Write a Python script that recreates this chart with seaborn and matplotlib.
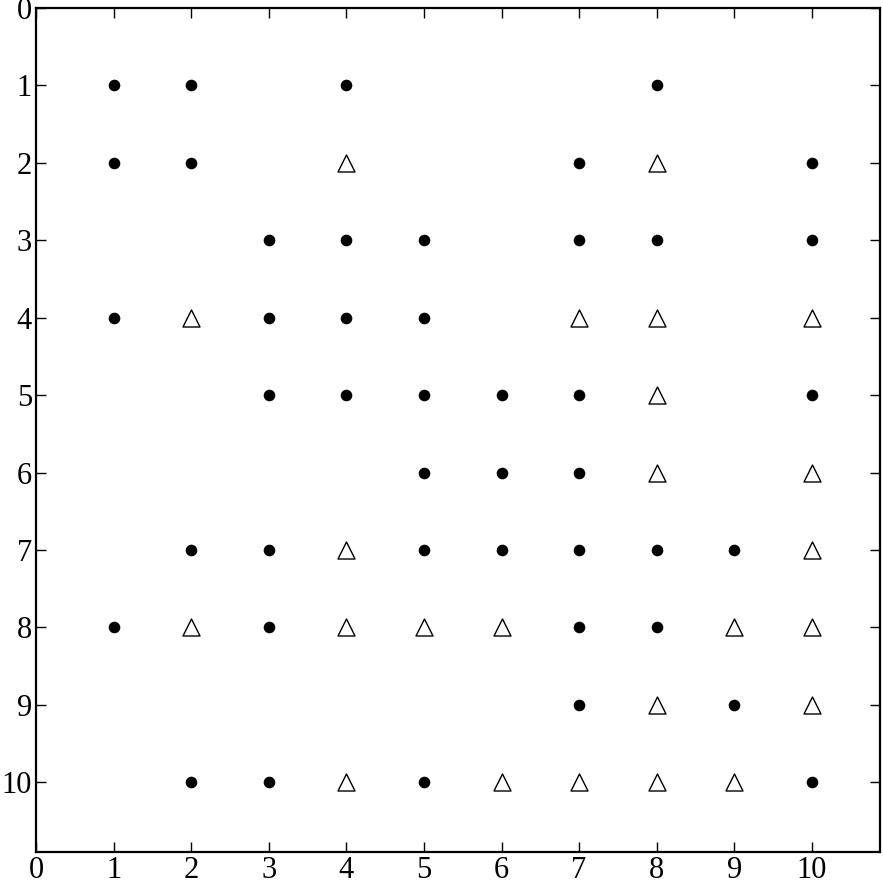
import pandas as pd
import matplotlib
matplotlib.use("Agg")
import matplotlib.pyplot as plt
import seaborn as sns

# filled dots: (column, row)
dot_x = [1, 2, 4, 8,
         1, 2, 7, 10,
         3, 4, 5, 7, 8, 10,
         1, 3, 4, 5,
         3, 4, 5, 6, 7, 10,
         5, 6, 7,
         2, 3, 5, 6, 7, 8, 9,
         1, 3, 7, 8,
         7, 9,
         2, 3, 5, 10]
dot_y = [1, 1, 1, 1,
         2, 2, 2, 2,
         3, 3, 3, 3, 3, 3,
         4, 4, 4, 4,
         5, 5, 5, 5, 5, 5,
         6, 6, 6,
         7, 7, 7, 7, 7, 7, 7,
         8, 8, 8, 8,
         9, 9,
         10, 10, 10, 10]

# open triangles: (column, row)
tri_x = [4, 8,
         2, 7, 8, 10,
         8,
         8, 10,
         4, 10,
         2, 4, 5, 6, 9, 10,
         8, 10,
         4, 6, 7, 8, 9]
tri_y = [2, 2,
         4, 4, 4, 4,
         5,
         6, 6,
         7, 7,
         8, 8, 8, 8, 8, 8,
         9, 9,
         10, 10, 10, 10, 10]

ticks = list(range(0, 11))

df = pd.concat([
    pd.DataFrame({"x": dot_x, "y": dot_y, "kind": "dot"}),
    pd.DataFrame({"x": tri_x, "y": tri_y, "kind": "tri"}),
], ignore_index=True)

sns.set_style("ticks")
plt.rcParams["font.family"] = ["Liberation Serif", "DejaVu Serif"]
plt.rcParams["xtick.direction"] = "in"
plt.rcParams["ytick.direction"] = "in"

fig = plt.figure(figsize=(8.83, 8.81), dpi=100)
ax = fig.add_axes([0.041, 0.033, 0.9556, 0.958])

sns.scatterplot(data=df[df.kind == "dot"], x="x", y="y", marker="o", s=70,
                color="black", edgecolor="black", linewidth=0, ax=ax, legend=False)
sns.scatterplot(data=df[df.kind == "tri"], x="x", y="y", marker="^", s=150,
                facecolor="white", edgecolor="black", linewidth=1.0, ax=ax, legend=False)

ax.set_xlim(0, 10.88)
ax.set_ylim(10.9, 0)
ax.set_xticks(ticks)
ax.set_yticks(ticks)
ax.set_xticklabels([str(t) for t in ticks])
ax.set_yticklabels([str(t) for t in ticks])
ax.tick_params(axis="both", which="both", direction="in", length=7, width=1,
               labelsize=22, top=True, right=True, pad=3, colors="black")
for side in ax.spines.values():
    side.set_visible(True)
    side.set_linewidth(1.6)
    side.set_color("black")
ax.set_xlabel("")
ax.set_ylabel("")

fig.savefig("out.png", dpi=100)
plt.close(fig)
